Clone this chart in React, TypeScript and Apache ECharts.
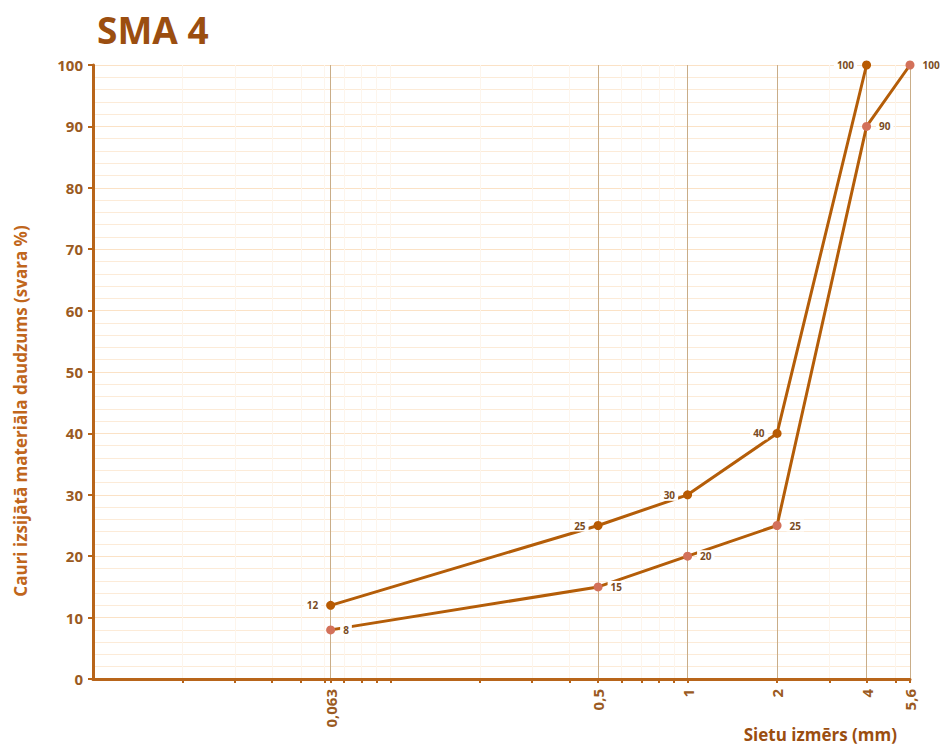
import React, { useEffect, useRef } from "react";
import * as echarts from "echarts";

const sieveSizes = [0.063, 0.5, 1, 2, 4, 5.6];
const sieveLabels = ["0,063", "0,5", "1", "2", "4", "5,6"];
const upperX = [0.063, 0.5, 1, 2, 4];
const upperY = [12, 25, 30, 40, 100];
const lowerX = [0.063, 0.5, 1, 2, 4, 5.6];
const lowerY = [8, 15, 20, 25, 90, 100];
const minorSizes = [
  0.02, 0.03, 0.04, 0.05, 0.06, 0.07, 0.08, 0.09,
  0.1, 0.2, 0.3, 0.4, 0.6, 0.7, 0.8, 0.9, 3, 5,
];
const xMin = 0.01;
const xMax = 5.6;

const TITLE = "SMA 4";
const Y_NAME = "Cauri izsijātā materiāla daudzums (svara %)";
const X_NAME = "Sietu izmērs (mm)";

const lg = (v: number) => Math.log10(v);

export default function App() {
  const ref = useRef<HTMLDivElement>(null);
  useEffect(() => {
    if (!ref.current) return;
    const chart = echarts.init(ref.current, undefined, { renderer: "svg" });
    const axisColor = "#b8651a";
    const lineColor = "#b45d08";
    const labelStyle = {
      show: true,
      fontSize: 10,
      fontWeight: "bold" as const,
      color: "#7a4c24",
      fontFamily: "Open Sans",
      backgroundColor: "#ffffff",
      padding: [1, 3],
      distance: 5,
    };
    const lo = lg(xMin);
    const hi = lg(xMax);
    chart.setOption({
      animation: false,
      backgroundColor: "#ffffff",
      title: {
        text: TITLE,
        left: 92,
        top: 6,
        textStyle: {
          fontFamily: "Open Sans",
          fontWeight: "bold",
          fontSize: 37,
          color: "#9b4e10",
        },
      },
      grid: { left: 93, right: 32, top: 65, bottom: 69, containLabel: false },
      xAxis: [
        {
          type: "value",
          min: lo,
          max: hi,
          position: "bottom",
          axisLine: { show: true, onZero: false, lineStyle: { color: axisColor, width: 3 } },
          axisTick: {
            show: true,
            length: 4,
            customValues: minorSizes.map(lg),
            lineStyle: { color: axisColor, width: 2 },
          },
          axisLabel: { show: false },
          splitLine: { show: true, lineStyle: { color: "#fdf5ec", width: 1 } },
        },
        {
          type: "value",
          min: lo,
          max: hi,
          position: "bottom",
          axisLine: { show: false, onZero: false },
          axisTick: {
            show: true,
            length: 4,
            customValues: sieveSizes.map(lg),
            lineStyle: { color: axisColor, width: 2 },
          },
          axisLabel: {
            show: true,
            customValues: sieveSizes.map(lg),
            rotate: 90,
            margin: 10,
            fontFamily: "Open Sans",
            fontWeight: "bold",
            fontSize: 15,
            color: "#9a5a22",
            formatter: (v: number) => {
              let best = 0;
              for (let i = 1; i < sieveSizes.length; i++) {
                if (Math.abs(lg(sieveSizes[i]) - v) < Math.abs(lg(sieveSizes[best]) - v)) best = i;
              }
              return sieveLabels[best];
            },
          },
          splitLine: { show: true, lineStyle: { color: "#c9ad88", width: 1 } },
        },
      ],
      yAxis: {
        type: "value",
        min: 0,
        max: 100,
        interval: 10,
        axisLine: { show: true, onZero: false, lineStyle: { color: axisColor, width: 3 } },
        axisTick: { show: true, length: 5, lineStyle: { color: axisColor, width: 2 } },
        axisLabel: {
          fontFamily: "Open Sans",
          fontWeight: "bold",
          fontSize: 15,
          color: "#9a5a22",
          margin: 10,
        },
        splitLine: { show: true, lineStyle: { color: "#fbe2c6", width: 1 } },
        minorTick: { show: false, splitNumber: 5 },
        minorSplitLine: { show: true, lineStyle: { color: "#fcebd8", width: 1 } },
      },
      graphic: [
        {
          type: "text",
          right: 45,
          top: 726,
          style: {
            text: X_NAME,
            fontFamily: "Open Sans",
            fontWeight: "bold",
            fontSize: 17,
            fill: "#9b4e10",
          },
        },
        {
          type: "text",
          x: 20,
          y: 411,
          rotation: Math.PI / 2,
          style: {
            text: Y_NAME,
            fontFamily: "Open Sans",
            fontWeight: "bold",
            fontSize: 17,
            fill: "#c0661c",
            align: "center",
            verticalAlign: "middle",
          },
        },
      ],
      series: [
        {
          type: "line",
          xAxisIndex: 0,
          data: upperX.map((x, i) => [lg(x), upperY[i]]),
          symbol: "circle",
          symbolSize: 9,
          lineStyle: { color: lineColor, width: 3 },
          itemStyle: { color: "#b85a02" },
          label: { ...labelStyle, position: "left" },
          z: 3,
        },
        {
          type: "line",
          xAxisIndex: 0,
          data: lowerX.map((x, i) => [lg(x), lowerY[i]]),
          symbol: "circle",
          symbolSize: 9,
          lineStyle: { color: lineColor, width: 3 },
          itemStyle: { color: "#d3715a" },
          label: { ...labelStyle, position: "right" },
          z: 3,
        },
      ],
    });
    return () => chart.dispose();
  }, []);
  return <div ref={ref} style={{ width: 942, height: 748, position: "absolute", left: 0, top: 0 }} />;
}
